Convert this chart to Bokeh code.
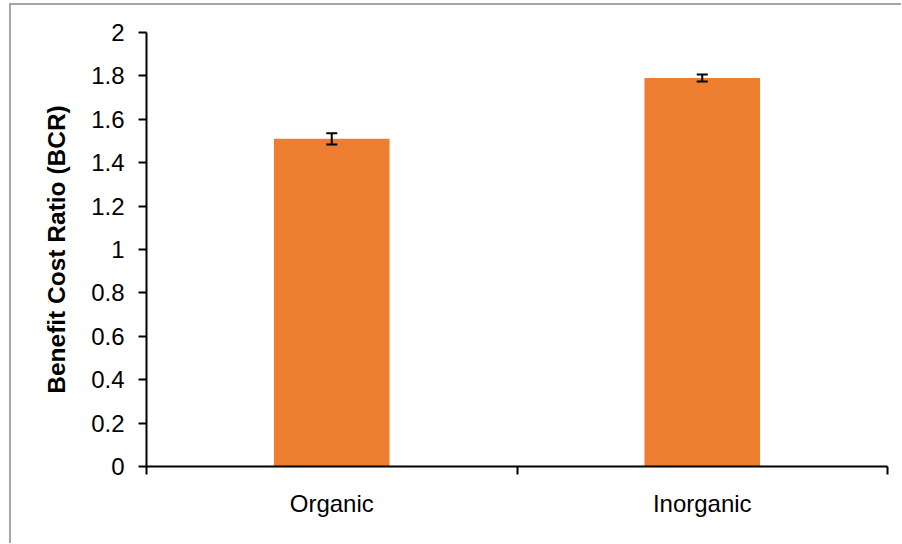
from bokeh.plotting import figure
from bokeh.models import (ColumnDataSource, Range1d, FixedTicker, NumeralTickFormatter,
                          Whisker, TeeHead)
from bokeh.embed import file_html
from bokeh.resources import INLINE

categories = ["Organic", "Inorganic"]
bcr_values = [1.51, 1.79]
bcr_errors = [0.026, 0.016]
y_ticks = [0, 0.2, 0.4, 0.6, 0.8, 1, 1.2, 1.4, 1.6, 1.8, 2]

FONT = "Liberation Sans"
BAR = "#ED7D31"

xs = [i + 0.5 for i in range(len(categories))]
source = ColumnDataSource(dict(
    x=xs,
    top=bcr_values,
    upper=[v + e for v, e in zip(bcr_values, bcr_errors)],
    lower=[v - e for v, e in zip(bcr_values, bcr_errors)],
))

p = figure(
    output_backend="svg", toolbar_location=None,
    frame_width=741, frame_height=434,
    min_border_left=135, min_border_top=27, min_border_right=14, min_border_bottom=77,
    x_range=Range1d(0, len(categories)), y_range=Range1d(0, 2),
    background_fill_color="white", border_fill_color="white",
    styles={"margin-left": "9px", "margin-top": "3px",
            "border-top": "2px solid #A6A6A6", "border-left": "2px solid #A6A6A6"},
)
p.outline_line_color = None
p.grid.visible = False

p.vbar(x="x", top="top", width=0.312, source=source, fill_color=BAR, line_color=None)

whisker = Whisker(base="x", upper="upper", lower="lower", source=source,
                  line_color="black", line_width=2, level="overlay",
                  upper_head=TeeHead(size=11, line_color="black", line_width=2),
                  lower_head=TeeHead(size=11, line_color="black", line_width=2))
p.add_layout(whisker)

# x axis
xa = p.xaxis[0]
xa.ticker = FixedTicker(ticks=xs, minor_ticks=list(range(len(categories) + 1)))
xa.major_label_overrides = {x: c for x, c in zip(xs, categories)}
xa.major_tick_out = 0
xa.major_tick_in = 0
xa.minor_tick_out = 8
xa.minor_tick_in = 0
xa.minor_tick_line_color = "black"
xa.minor_tick_line_width = 2
xa.axis_line_color = "black"
xa.axis_line_width = 2
xa.major_label_text_font = FONT
xa.major_label_text_font_size = "24px"
xa.major_label_text_color = "black"
xa.major_label_standoff = 15

# y axis
ya = p.yaxis[0]
ya.ticker = FixedTicker(ticks=y_ticks)
ya.formatter = NumeralTickFormatter(format="0.[0]")
ya.major_tick_out = 8
ya.major_tick_in = 0
ya.minor_tick_out = 0
ya.minor_tick_in = 0
ya.major_tick_line_color = "black"
ya.major_tick_line_width = 2
ya.axis_line_color = "black"
ya.axis_line_width = 2
ya.major_label_text_font = FONT
ya.major_label_text_font_size = "24px"
ya.major_label_text_color = "black"
ya.major_label_standoff = 14
ya.axis_label = "Benefit Cost Ratio (BCR)"
ya.axis_label_text_font = FONT
ya.axis_label_text_font_size = "24.5px"
ya.axis_label_text_font_style = "bold"
ya.axis_label_text_color = "black"
ya.axis_label_standoff = 18

open("out.html", "w").write(file_html(p, INLINE))
